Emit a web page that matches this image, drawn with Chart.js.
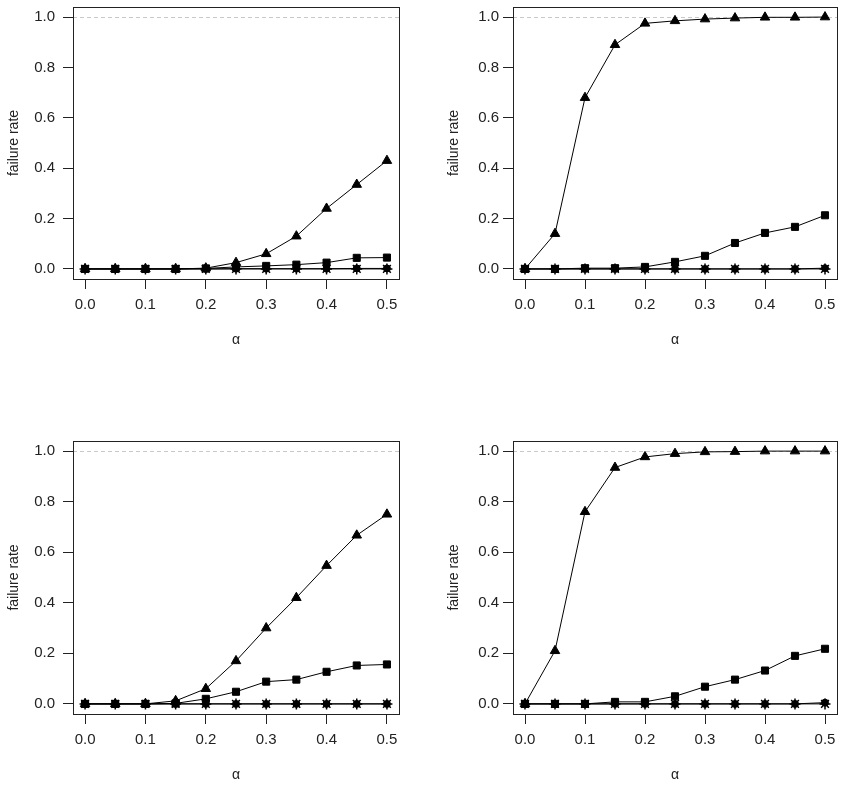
<!DOCTYPE html>
<html>
<head>
<meta charset="utf-8">
<script src="https://cdn.jsdelivr.net/npm/chart.js@4.4.1/dist/chart.umd.min.js"></script>
<style>
  html, body { margin: 0; padding: 0; background: #fff; }
  #wrap { position: relative; width: 845px; height: 786px; }
  canvas { position: absolute; }
</style>
</head>
<body>
<div id="wrap">
  <canvas id="p1" width="422" height="393" style="left:0;top:0"></canvas>
  <canvas id="p2" width="423" height="393" style="left:422px;top:0"></canvas>
  <canvas id="p3" width="422" height="393" style="left:0;top:393px"></canvas>
  <canvas id="p4" width="423" height="393" style="left:422px;top:393px"></canvas>
</div>
<script>
// data
const alphas = [0, 0.05, 0.1, 0.15, 0.2, 0.25, 0.3, 0.35, 0.4, 0.45, 0.5];
const xTicks = [0, 0.1, 0.2, 0.3, 0.4, 0.5];
const yTicks = [0, 0.2, 0.4, 0.6, 0.8, 1.0];
const refLine = 1.0;
const xTitle = 'α';
const yTitle = 'failure rate';

// top left
const p1Tri  = [0, 0, 0, 0, 0.003, 0.025, 0.06, 0.13, 0.24, 0.335, 0.43];
const p1Sq   = [0, 0, 0, 0, 0.002, 0.008, 0.012, 0.017, 0.025, 0.044, 0.045];
const p1Circ = [0, 0, 0, 0, 0, 0.001, 0.001, 0.001, 0.001, 0.002, 0.002];
const p1Star = [0, 0, 0, 0, 0, 0, 0, 0, 0, 0, 0];

// top right
const p2Tri  = [0, 0.14, 0.68, 0.89, 0.975, 0.985, 0.992, 0.996, 0.999, 0.999, 1.0];
const p2Sq   = [0, 0, 0.003, 0.003, 0.008, 0.028, 0.052, 0.103, 0.143, 0.167, 0.213];
const p2Circ = [0, 0, 0, 0, 0, 0, 0, 0, 0, 0, 0.003];
const p2Star = [0, 0, 0, 0, 0, 0, 0, 0, 0, 0, 0];

// bottom left
const p3Tri  = [0, 0, 0, 0.012, 0.06, 0.17, 0.3, 0.42, 0.547, 0.667, 0.75];
const p3Sq   = [0, 0, 0, 0.002, 0.02, 0.048, 0.088, 0.096, 0.127, 0.152, 0.156];
const p3Circ = [0, 0, 0, 0, 0, 0, 0, 0, 0, 0, 0];
const p3Star = [0, 0, 0, 0, 0, 0, 0, 0, 0, 0, 0];

// bottom right
const p4Tri  = [0, 0.21, 0.76, 0.935, 0.977, 0.99, 0.997, 0.998, 1.0, 1.0, 1.0];
const p4Sq   = [0, 0, 0, 0.008, 0.008, 0.03, 0.068, 0.096, 0.132, 0.19, 0.218];
const p4Circ = [0, 0, 0, 0, 0, 0, 0, 0, 0, 0, 0.005];
const p4Star = [0, 0, 0, 0, 0, 0, 0, 0, 0, 0, 0];

const FONT = '"Liberation Sans", Arial, Helvetica, sans-serif';
const TXT = '#222';

// plot box + dashed line at 1.0
const boxPlugin = {
  id: 'rbox',
  beforeDatasetsDraw(chart) {
    const { ctx, chartArea: a, scales: { y } } = chart;
    const yy = Math.round(y.getPixelForValue(refLine)) + 0.5;
    ctx.save();
    ctx.lineWidth = 1;
    ctx.strokeStyle = '#c8c8c8';
    ctx.setLineDash([4, 3]);
    ctx.beginPath();
    ctx.moveTo(a.left, yy);
    ctx.lineTo(a.right, yy);
    ctx.stroke();
    ctx.setLineDash([]);
    ctx.strokeStyle = TXT;
    ctx.strokeRect(Math.round(a.left) + 0.5, Math.round(a.top) + 0.5,
      Math.round(a.right - a.left), Math.round(a.bottom - a.top));
    ctx.restore();
  }
};

function series(vals, style, r) {
  return {
    data: alphas.map((a, i) => ({ x: a, y: vals[i] })),
    borderColor: '#000',
    borderWidth: 1,
    backgroundColor: '#000',
    pointStyle: style,
    pointRadius: r,
    pointBorderColor: '#000',
    pointBackgroundColor: '#000',
    pointBorderWidth: style === 'star' ? 1.5 : 1,
    fill: false,
    tension: 0
  };
}

function makePanel(id, tri, sq, circ, star, box) {
  const cv = document.getElementById(id);
  const W = cv.width, H = cv.height;
  return new Chart(cv, {
    type: 'line',
    data: {
      datasets: [
        series(tri, 'triangle', 5.5),
        series(sq, 'rect', 5),
        series(circ, 'circle', 3.5),
        series(star, 'star', 5.5)
      ]
    },
    options: {
      responsive: false,
      animation: false,
      events: [],
      layout: { padding: { left: 0, top: box.t, right: W - box.r, bottom: 0 } },
      plugins: { legend: { display: false }, tooltip: { enabled: false } },
      scales: {
        x: {
          type: 'linear',
          min: -0.02,
          max: 0.52,
          afterBuildTicks: s => { s.ticks = xTicks.map(v => ({ value: v })); },
          afterFit: s => { s.height = H - box.b; s.paddingLeft = 0; s.paddingRight = 0; },
          grid: { drawOnChartArea: false, drawTicks: true, tickLength: 10, color: TXT },
          border: { display: false },
          ticks: {
            padding: 7,
            color: TXT,
            font: { family: FONT, size: 15 },
            callback: v => v.toFixed(1),
            maxRotation: 0
          },
          title: {
            display: true,
            text: xTitle,
            color: TXT,
            font: { family: FONT, size: 14 },
            padding: { top: 0, bottom: box.xtp }
          }
        },
        y: {
          type: 'linear',
          min: -0.04,
          max: 1.04,
          afterBuildTicks: s => { s.ticks = yTicks.map(v => ({ value: v })); },
          afterFit: s => { s.width = box.l; s.paddingTop = 0; s.paddingBottom = 0; },
          grid: { drawOnChartArea: false, drawTicks: true, tickLength: 10, color: TXT },
          border: { display: false },
          ticks: {
            padding: box.ytp,
            color: TXT,
            font: { family: FONT, size: 15 },
            callback: v => v.toFixed(1)
          },
          title: {
            display: true,
            text: yTitle,
            color: TXT,
            font: { family: FONT, size: 14 },
            padding: { top: box.ttp, bottom: 0 }
          }
        }
      }
    },
    plugins: [boxPlugin]
  });
}

makePanel('p1', p1Tri, p1Sq, p1Circ, p1Star, { l: 73, t: 6, r: 399, b: 279, ytp: 8, ttp: 5.6, xtp: 44.6 });
makePanel('p2', p2Tri, p2Sq, p2Circ, p2Star, { l: 91, t: 6, r: 415, b: 279, ytp: 4, ttp: 23.6, xtp: 44.6 });
makePanel('p3', p3Tri, p3Sq, p3Circ, p3Star, { l: 73, t: 48, r: 399, b: 321, ytp: 8, ttp: 5.6, xtp: 2.6 });
makePanel('p4', p4Tri, p4Sq, p4Circ, p4Star, { l: 91, t: 48, r: 415, b: 321, ytp: 4, ttp: 23.6, xtp: 2.6 });
</script>
</body>
</html>
